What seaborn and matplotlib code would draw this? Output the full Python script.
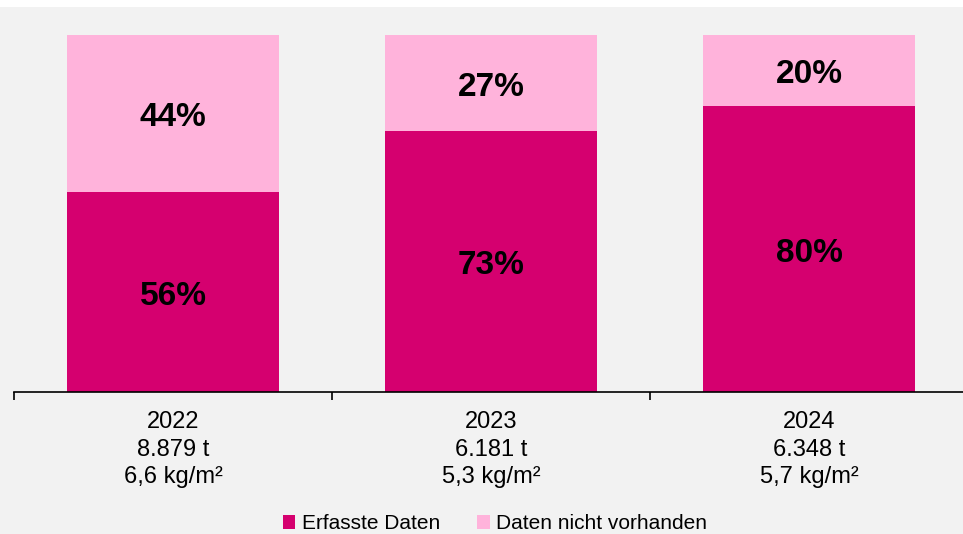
import matplotlib
matplotlib.use("Agg")
import matplotlib.pyplot as plt
from matplotlib.patches import Patch, Rectangle
from matplotlib.ticker import FixedLocator
from matplotlib.transforms import offset_copy
import pandas as pd
import seaborn as sns

# Data
years = ["2022", "2023", "2024"]
tonnes = ["8.879 t", "6.181 t", "6.348 t"]
intensity = ["6,6 kg/m²", "5,3 kg/m²", "5,7 kg/m²"]
captured = [56, 73, 80]
missing = [44, 27, 20]

DARK = "#D5006F"
LIGHT = "#FFB3DB"
BG = "#F2F2F2"

sns.set_theme(style="white")
plt.rcParams["font.family"] = ["Liberation Sans", "DejaVu Sans"]
plt.rcParams["text.color"] = "black"

df = pd.DataFrame({
    "year": years,
    "captured": [v / 100 for v in captured],
    "total": [(c + m) / 100 for c, m in zip(captured, missing)],
})

fig = plt.figure(figsize=(9.63, 5.34), dpi=100)
fig.patch.set_facecolor(BG)
# white strip along the top edge
fig.add_artist(Rectangle((0, 1 - 7 / 534), 1, 7 / 534, transform=fig.transFigure,
                         facecolor="white", edgecolor="none", zorder=0))

ax = fig.add_axes([14 / 963, 142 / 534, 954 / 963, 357 / 534])
ax.set_facecolor(BG)

sns.barplot(data=df, x="year", y="total", color=LIGHT, width=0.664,
            saturation=1, ax=ax, edgecolor="none")
sns.barplot(data=df, x="year", y="captured", color=DARK, width=0.664,
            saturation=1, ax=ax, edgecolor="none")

label_tf = offset_copy(ax.transData, fig=fig, x=0, y=-4, units="dots")
for i, (c, m) in enumerate(zip(captured, missing)):
    ax.text(i, c / 200, f"{c}%", ha="center", va="center", transform=label_tf,
            fontsize=24, fontweight="bold", color="black")
    ax.text(i, (c + m / 2) / 100, f"{m}%", ha="center", va="center", transform=label_tf,
            fontsize=24, fontweight="bold", color="black")

ax.set_xlim(-0.5, 2.5)
ax.set_ylim(0, 1)
ax.set_xlabel("")
ax.set_ylabel("")
ax.set_yticks([])
ax.set_xticks(range(len(years)))
ax.set_xticklabels([f"{y}\n{t}\n{k}" for y, t, k in zip(years, tonnes, intensity)],
                   fontsize=17, linespacing=1.32)
ax.tick_params(axis="x", which="major", length=0, pad=13.8, colors="black")
ax.xaxis.set_minor_locator(FixedLocator([-0.5, 0.5, 1.5, 2.5]))
ax.tick_params(axis="x", which="minor", bottom=True, direction="out",
               length=5.5, width=1.2, color="black")

for side in ["top", "right", "left"]:
    ax.spines[side].set_visible(False)
ax.spines["bottom"].set_color("black")
ax.spines["bottom"].set_linewidth(1.2)

handles = [Patch(facecolor=DARK, edgecolor="none", label="Erfasste Daten"),
           Patch(facecolor=LIGHT, edgecolor="none", label="Daten nicht vorhanden")]
fig.legend(handles=handles, loc="center", bbox_to_anchor=(0.514, 0.019), ncol=2,
           frameon=False, fontsize=15, handlelength=0.6, handleheight=0.6,
           handletextpad=0.3, columnspacing=1.8, borderaxespad=0,
           labelcolor="black")

fig.savefig("out.png", dpi=100, facecolor=BG)
